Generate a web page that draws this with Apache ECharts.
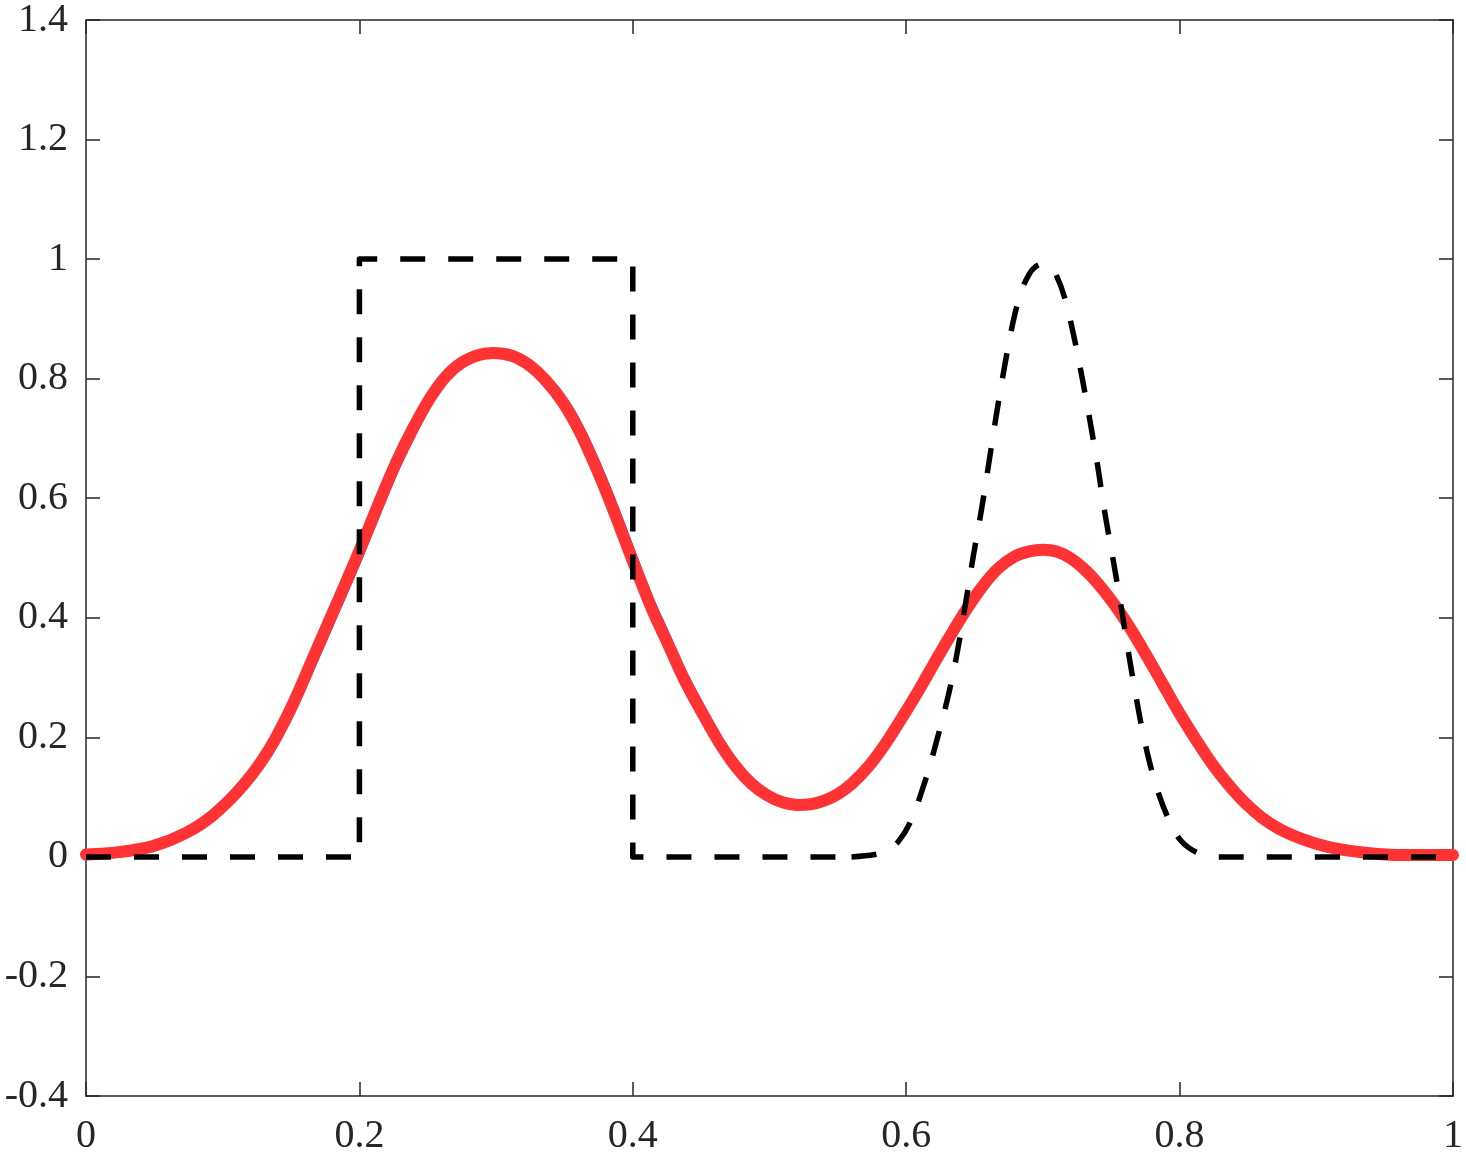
<!DOCTYPE html>
<html>
<head>
<meta charset="utf-8">
<script src="https://cdn.jsdelivr.net/npm/echarts@6/dist/echarts.min.js"></script>
<style>
  html, body { margin: 0; padding: 0; background: #ffffff; }
  #chart { width: 1466px; height: 1156px; }
</style>
</head>
<body>
<div id="chart"></div>
<script>
// ---- data ----
const xTicks = [0, 0.2, 0.4, 0.6, 0.8, 1];
const yTicks = [-0.4, -0.2, 0, 0.2, 0.4, 0.6, 0.8, 1, 1.2, 1.4];

const xGrid = [0, 0.024, 0.049, 0.073, 0.093, 0.115, 0.134, 0.151, 0.168, 0.185,
  0.200, 0.215, 0.227, 0.239, 0.251, 0.263, 0.275, 0.288, 0.298, 0.312,
  0.324, 0.336, 0.349, 0.361, 0.373, 0.385, 0.400, 0.414, 0.426, 0.438,
  0.451, 0.463, 0.475, 0.487, 0.499, 0.510, 0.520, 0.530, 0.540, 0.550,
  0.560, 0.572, 0.585, 0.597, 0.609, 0.620, 0.631, 0.643, 0.655, 0.667,
  0.679, 0.690, 0.700, 0.710, 0.720, 0.730, 0.740, 0.752, 0.764, 0.776,
  0.788, 0.800, 0.812, 0.824, 0.836, 0.848, 0.860, 0.872, 0.884, 0.896,
  0.910, 0.925, 0.945, 0.970, 1.000];

const numericY = [0.004, 0.008, 0.018, 0.040, 0.070, 0.120, 0.180, 0.254, 0.343, 0.432,
  0.512, 0.596, 0.660, 0.716, 0.765, 0.803, 0.827, 0.840, 0.843, 0.838,
  0.823, 0.798, 0.760, 0.712, 0.652, 0.585, 0.495, 0.415, 0.355, 0.295,
  0.240, 0.192, 0.152, 0.122, 0.102, 0.091, 0.087, 0.088, 0.094, 0.105,
  0.122, 0.150, 0.190, 0.233, 0.278, 0.322, 0.365, 0.410, 0.450, 0.482,
  0.502, 0.511, 0.514, 0.511, 0.500, 0.482, 0.458, 0.423, 0.382, 0.336,
  0.288, 0.240, 0.196, 0.155, 0.120, 0.090, 0.066, 0.048, 0.035, 0.025,
  0.016, 0.010, 0.005, 0.003, 0.003];

const exactY = [0.003, 0.007, 0.015, 0.035, 0.062, 0.109, 0.165, 0.235, 0.322, 0.411,
  0.490, 0.574, 0.640, 0.698, 0.751, 0.793, 0.821, 0.838, 0.843, 0.841,
  0.830, 0.808, 0.774, 0.730, 0.673, 0.608, 0.519, 0.436, 0.375, 0.313,
  0.256, 0.206, 0.164, 0.130, 0.110, 0.099, 0.095, 0.095, 0.099, 0.107,
  0.120, 0.145, 0.184, 0.226, 0.270, 0.314, 0.357, 0.403, 0.444, 0.477,
  0.499, 0.510, 0.514, 0.513, 0.504, 0.488, 0.466, 0.432, 0.392, 0.346,
  0.298, 0.250, 0.205, 0.163, 0.127, 0.096, 0.071, 0.052, 0.038, 0.027,
  0.018, 0.011, 0.006, 0.003, 0.002];

// initial condition: square pulse, then smooth bump
const pulseX = [0, 0.2, 0.2, 0.4, 0.4, 0.56];
const pulseY = [0, 0, 1, 1, 0, 0];
const bumpX = [0.56, 0.577, 0.585, 0.594, 0.603, 0.614, 0.623, 0.631, 0.637, 0.643,
  0.649, 0.655, 0.660, 0.665, 0.671, 0.678, 0.684, 0.690, 0.695, 0.700,
  0.705, 0.710, 0.716, 0.722, 0.728, 0.734, 0.740, 0.745, 0.751, 0.757,
  0.762, 0.768, 0.774, 0.782, 0.791, 0.801, 0.815, 0.830, 1];
const bumpY = [0, 0.004, 0.010, 0.025, 0.058, 0.128, 0.200, 0.272, 0.338, 0.418,
  0.502, 0.580, 0.652, 0.726, 0.808, 0.893, 0.945, 0.975, 0.988, 0.992,
  0.988, 0.972, 0.935, 0.878, 0.810, 0.735, 0.655, 0.580, 0.502, 0.422,
  0.350, 0.270, 0.198, 0.125, 0.068, 0.027, 0.005, 0, 0];

// ---- build ----
const pairs = (xs, ys) => xs.map((x, i) => [x, ys[i]]);
const axisColor = '#262626';
const labelFont = { fontFamily: 'Liberation Serif', fontSize: 40, color: '#262626' };
const fmt = v => String(+v.toFixed(1));

const chart = echarts.init(document.getElementById('chart'), null, { renderer: 'canvas' });

const baseX = {
  type: 'value', min: xTicks[0], max: xTicks[xTicks.length - 1], interval: 0.2,
  axisLine: { show: true, onZero: false, lineStyle: { color: axisColor, width: 1.5 } },
  axisTick: { show: true, inside: true, length: 14, lineStyle: { color: axisColor, width: 1.5 } },
  splitLine: { show: false }
};
const baseY = {
  type: 'value', min: yTicks[0], max: yTicks[yTicks.length - 1], interval: 0.2,
  axisLine: { show: true, onZero: false, lineStyle: { color: axisColor, width: 1.5 } },
  axisTick: { show: true, inside: true, length: 14, lineStyle: { color: axisColor, width: 1.5 } },
  splitLine: { show: false }
};

const dashStyle = { color: '#000000', width: 5.5, type: [25, 23], cap: 'butt', join: 'round' };

chart.setOption({
  animation: false,
  backgroundColor: '#ffffff',
  grid: { left: 86, right: 10, top: 19, bottom: 56, containLabel: false },
  xAxis: [
    Object.assign({}, baseX, {
      position: 'bottom',
      axisLabel: Object.assign({ margin: 20, formatter: fmt }, labelFont)
    }),
    Object.assign({}, baseX, { position: 'top', axisLabel: { show: false } })
  ],
  yAxis: [
    Object.assign({}, baseY, {
      position: 'left',
      axisLabel: Object.assign({ margin: 18, formatter: fmt }, labelFont)
    }),
    Object.assign({}, baseY, { position: 'right', axisLabel: { show: false } })
  ],
  series: [
    {
      name: 'exact', type: 'line', xAxisIndex: 0, yAxisIndex: 0,
      data: pairs(xGrid, exactY), showSymbol: false, smooth: 0.35,
      lineStyle: { color: '#1f4fff', width: 2 }
    },
    {
      name: 'numerical', type: 'line', xAxisIndex: 0, yAxisIndex: 0,
      data: pairs(xGrid, numericY), showSymbol: false, smooth: 0.35,
      lineStyle: { color: '#ff3333', width: 12, cap: 'round', join: 'round' }
    },
    {
      name: 'initial', type: 'line', xAxisIndex: 0, yAxisIndex: 0,
      data: pairs(pulseX, pulseY), showSymbol: false, smooth: false,
      lineStyle: dashStyle
    },
    {
      name: 'initial bump', type: 'line', xAxisIndex: 0, yAxisIndex: 0,
      data: pairs(bumpX, bumpY), showSymbol: false, smooth: 0.35,
      lineStyle: dashStyle
    }
  ]
});
</script>
</body>
</html>
